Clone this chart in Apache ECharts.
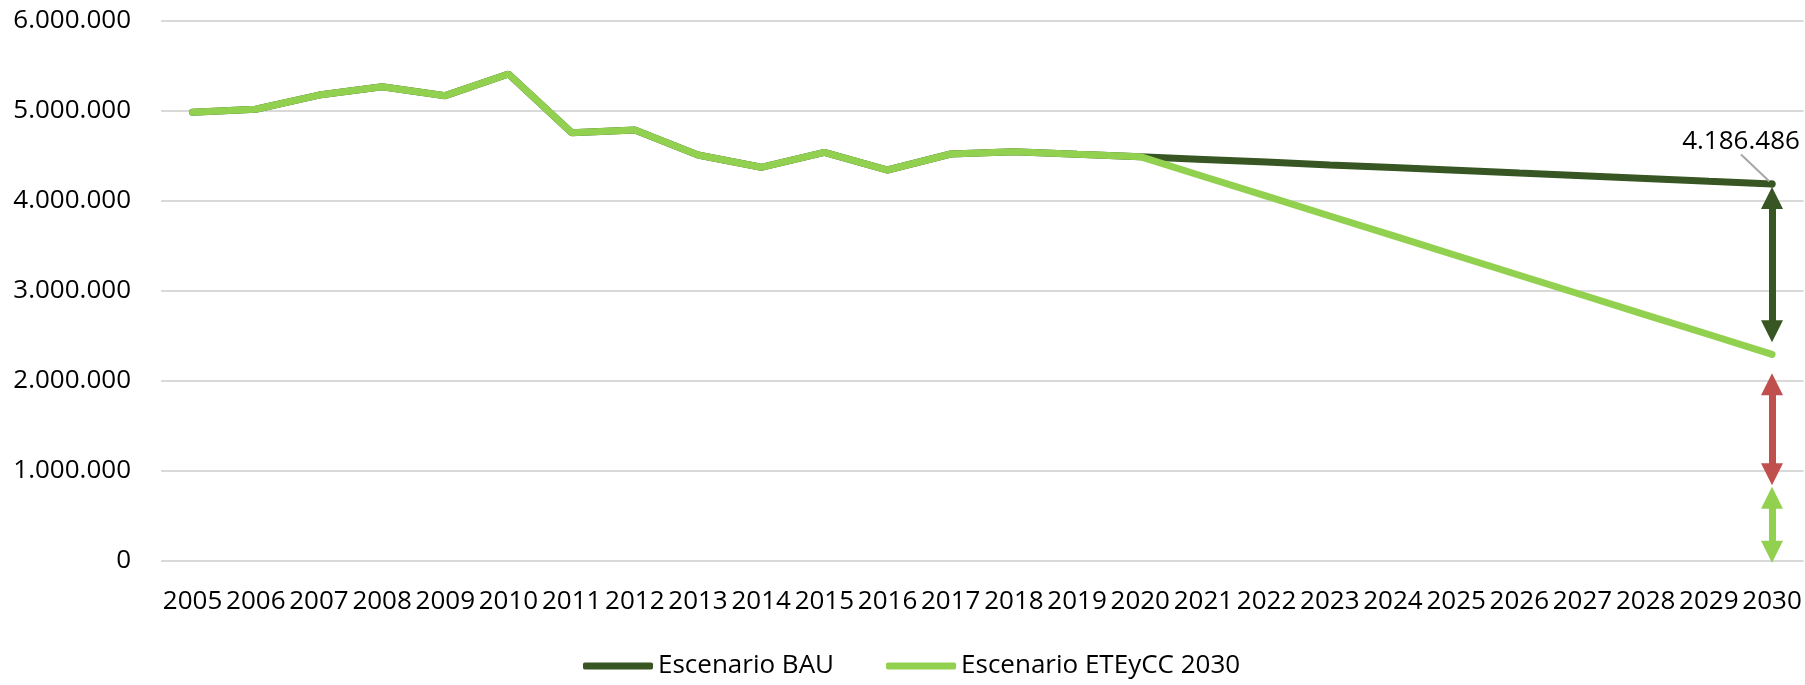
<!DOCTYPE html>
<html>
<head>
<meta charset="utf-8">
<script src="https://cdn.jsdelivr.net/npm/echarts@6/dist/echarts.min.js"></script>
<style>
  html, body { margin: 0; padding: 0; background: #fff; }
  #chart { width: 1805px; height: 685px; }
</style>
</head>
<body>
<div id="chart"></div>
<script>
// ---- data ----
const years = ['2005','2006','2007','2008','2009','2010','2011','2012','2013','2014','2015','2016','2017','2018','2019','2020','2021','2022','2023','2024','2025','2026','2027','2028','2029','2030'];
const bauValues = [4982000, 5016000, 5174000, 5267000, 5167000, 5408000, 4756000, 4786000, 4508000, 4371000, 4538000, 4341000, 4519000, 4544000, 4516000, 4489000, 4459000, 4429000, 4398000, 4368000, 4338000, 4307000, 4277000, 4247000, 4216000, 4186486];
const eteyccValues = [4982000, 5016000, 5174000, 5267000, 5167000, 5408000, 4756000, 4786000, 4508000, 4371000, 4538000, 4341000, 4519000, 4544000, 4516000, 4489000, 4269000, 4050000, 3830000, 3611000, 3391000, 3172000, 2952000, 2732000, 2513000, 2293000];
const seriesNames = ['Escenario BAU', 'Escenario ETEyCC 2030'];
const yTicks = [0, 1000000, 2000000, 3000000, 4000000, 5000000, 6000000];
// double-headed gap arrows at 2030 (from, to)
const arrowFrom = [4030000, 1960000, 700000];
const arrowTo = [2550000, 960000, 100000];

// ---- styles ----
const DARK = '#375623';
const LIGHT = '#92D050';
const RED = '#C0504D';
const arrowColors = [DARK, RED, LIGHT];
const FONT = 'Open Sans';

function fmt(v) {
  return String(Math.round(v)).replace(/\B(?=(\d{3})+(?!\d))/g, '.');
}

const lastIdx = years.length - 1;
const bauData = bauValues.map((v, i) => i === lastIdx ? {
  value: v,
  symbol: 'circle',
  symbolSize: 7,
  label: { show: true, position: 'top', formatter: p => fmt(p.value), fontFamily: FONT, fontSize: 26, color: '#000' }
} : v);

const chart = echarts.init(document.getElementById('chart'), null, { renderer: 'canvas' });
chart.setOption({
  animation: false,
  backgroundColor: '#fff',
  textStyle: { fontFamily: FONT },
  grid: { left: 161, right: 1.4, top: 20.7, bottom: 124.3, containLabel: false },
  legend: {
    data: seriesNames.map(n => ({ name: n, icon: 'roundRect' })),
    left: 583,
    top: 653,
    padding: 0,
    itemWidth: 70,
    itemHeight: 7,
    itemGap: 52,
    textStyle: { fontFamily: FONT, fontSize: 26, color: '#000' }
  },
  xAxis: {
    type: 'category',
    data: years,
    boundaryGap: true,
    axisLine: { show: false },
    axisTick: { show: false },
    axisLabel: { interval: 0, margin: 28, fontFamily: FONT, fontSize: 26, color: '#000' }
  },
  yAxis: {
    type: 'value',
    min: yTicks[0],
    max: yTicks[yTicks.length - 1],
    interval: yTicks[1] - yTicks[0],
    axisLine: { show: false },
    axisTick: { show: false },
    splitLine: { lineStyle: { color: '#D9D9D9', width: 2 } },
    axisLabel: { margin: 30, fontFamily: FONT, fontSize: 26, color: '#000', formatter: fmt }
  },
  series: [
    {
      name: seriesNames[0],
      type: 'line',
      data: bauData,
      showSymbol: true,
      symbol: 'none',
      itemStyle: { color: DARK },
      lineStyle: { color: DARK, width: 7, cap: 'round' },
      labelLine: { show: true, lineStyle: { color: '#A6A6A6', width: 2 } },
      labelLayout: function (p) {
        if (p.dataIndex === lastIdx) return { dx: -31, dy: -21 };
        return {};
      },
      z: 2
    },
    {
      name: seriesNames[1],
      type: 'line',
      data: eteyccValues,
      showSymbol: false,
      symbol: 'none',
      itemStyle: { color: LIGHT },
      lineStyle: { color: LIGHT, width: 7, cap: 'round' },
      z: 3,
      markLine: {
        silent: true,
        symbol: ['triangle', 'triangle'],
        symbolSize: 22,
        label: { show: false },
        emphasis: { disabled: true },
        data: arrowFrom.map((f, i) => [
          { coord: [years[lastIdx], f], lineStyle: { color: arrowColors[i], width: 7, type: 'solid' }, itemStyle: { color: arrowColors[i] } },
          { coord: [years[lastIdx], arrowTo[i]] }
        ])
      }
    }
  ]
});
</script>
</body>
</html>
